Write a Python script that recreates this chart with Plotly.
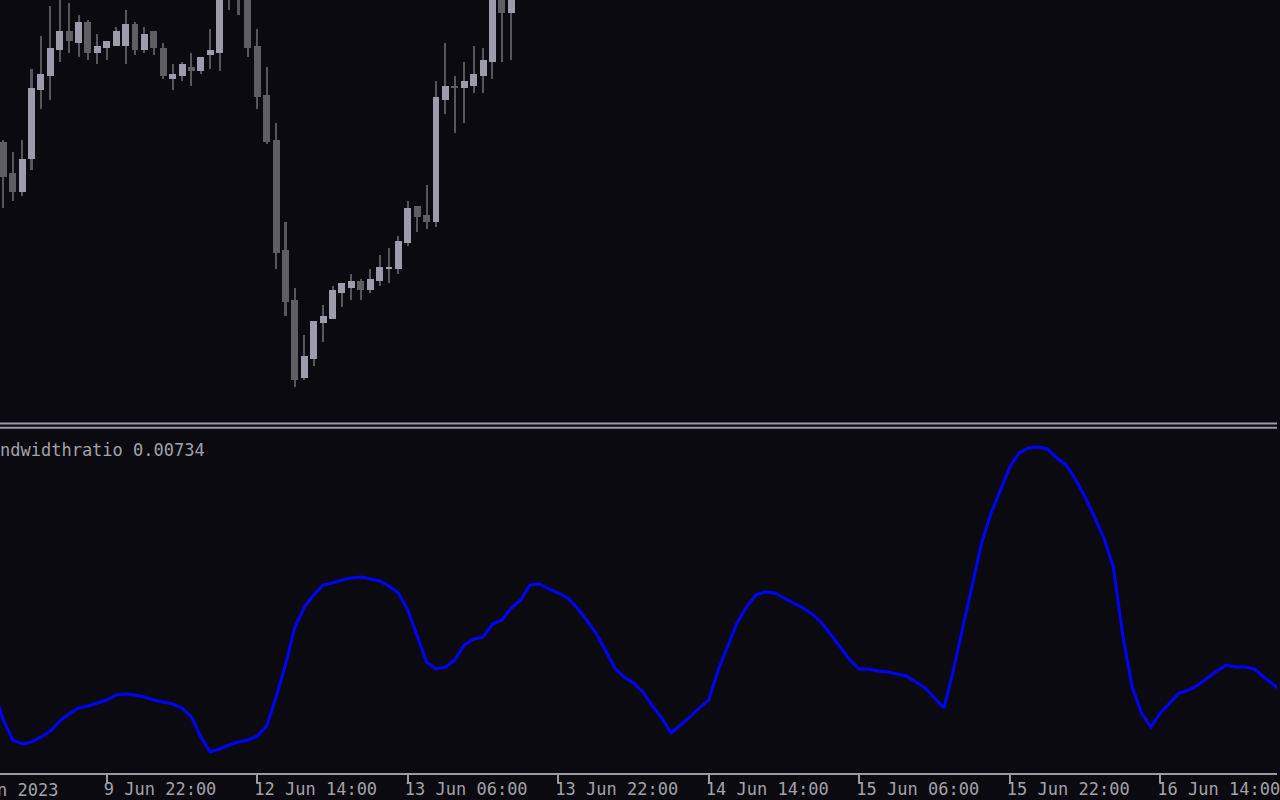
import plotly.graph_objects as go

# ---------------- data ----------------
# H1 bars, index 0 = 9 Jun 11:00 (only candles visible in the price window)
candle_idx = list(range(0, 55))
opens = [1967.90, 1966.35, 1965.40, 1967.05, 1970.50, 1971.20, 1972.50, 1973.45, 1972.85, 1973.90,
         1972.35, 1972.60, 1972.70, 1972.70, 1973.80, 1972.50, 1973.45, 1972.60, 1971.05, 1971.20,
         1971.65, 1971.45, 1972.25, 1972.35, 1976.50, 1976.00, 1975.50, 1972.70, 1970.25, 1968.00,
         1962.50, 1960.00, 1956.10, 1957.05, 1958.85, 1959.05, 1960.35, 1960.60, 1960.95, 1960.50,
         1960.95, 1961.55, 1961.55, 1962.85, 1964.70, 1964.25, 1963.90, 1970.00, 1970.70, 1970.60,
         1970.70, 1971.20, 1971.90, 1975.50, 1974.35]
highs = [1968.00, 1967.40, 1968.00, 1971.55, 1973.20, 1974.70, 1975.15, 1974.85, 1974.25, 1974.00,
         1973.30, 1972.95, 1973.65, 1974.50, 1973.90, 1973.65, 1973.45, 1972.85, 1971.80, 1971.90,
         1972.35, 1972.15, 1973.55, 1975.60, 1977.00, 1976.50, 1975.75, 1973.55, 1971.65, 1968.85,
         1963.90, 1960.60, 1958.25, 1958.95, 1959.75, 1960.70, 1960.85, 1961.30, 1961.05, 1961.55,
         1962.25, 1962.60, 1963.20, 1964.95, 1964.70, 1965.75, 1970.95, 1972.85, 1971.20, 1971.90,
         1972.70, 1972.60, 1975.75, 1976.00, 1976.25]
lows = [1964.60, 1964.95, 1965.20, 1966.50, 1969.55, 1970.00, 1971.90, 1972.35, 1972.15, 1972.00,
        1971.80, 1972.00, 1972.70, 1971.80, 1972.25, 1972.35, 1972.25, 1971.05, 1970.50, 1970.95,
        1970.70, 1971.30, 1971.55, 1971.45, 1974.50, 1974.25, 1972.15, 1969.55, 1967.80, 1961.55,
        1959.20, 1955.65, 1956.00, 1956.70, 1957.90, 1959.05, 1959.65, 1960.00, 1960.00, 1960.35,
        1960.70, 1960.85, 1961.30, 1962.70, 1963.40, 1963.55, 1963.65, 1969.30, 1968.35, 1968.85,
        1970.35, 1970.35, 1971.05, 1971.90, 1972.00]
closes = [1966.15, 1965.40, 1967.05, 1970.60, 1971.30, 1972.60, 1973.45, 1972.95, 1973.90, 1972.35,
          1972.70, 1972.95, 1973.45, 1973.80, 1972.50, 1973.30, 1972.60, 1971.20, 1971.30, 1971.80,
          1971.45, 1972.15, 1972.50, 1975.40, 1975.10, 1975.05, 1972.60, 1970.15, 1967.90, 1962.35,
          1959.90, 1956.00, 1957.20, 1958.95, 1959.20, 1960.50, 1960.85, 1960.95, 1960.50, 1961.05,
          1961.65, 1961.65, 1962.95, 1964.60, 1964.15, 1963.90, 1970.15, 1970.70, 1970.60, 1970.95,
          1971.30, 1972.00, 1975.40, 1974.35, 1975.75]

# Bandwidth ratio indicator, index -1 .. 136
ind_idx = list(range(-1, 137))
ind_vals = [0.00730,
            0.00670, 0.00630, 0.00622, 0.00626, 0.00636, 0.00648, 0.00668, 0.00682, 0.00694, 0.00698,
            0.00704, 0.00710, 0.00720, 0.00722, 0.00720, 0.00716, 0.00710, 0.00706, 0.00702, 0.00694,
            0.00676, 0.00636, 0.00606, 0.00612, 0.00620, 0.00626, 0.00630, 0.00638, 0.00658, 0.00716,
            0.00780, 0.00856, 0.00896, 0.00920, 0.00940, 0.00944, 0.00950, 0.00954, 0.00956, 0.00952,
            0.00948, 0.00938, 0.00924, 0.00890, 0.00840, 0.00786, 0.00772, 0.00776, 0.00790, 0.00820,
            0.00832, 0.00836, 0.00862, 0.00870, 0.00894, 0.00910, 0.00940, 0.00942, 0.00932, 0.00924,
            0.00914, 0.00894, 0.00870, 0.00844, 0.00810, 0.00774, 0.00756, 0.00744, 0.00726, 0.00698,
            0.00674, 0.00644, 0.00660, 0.00676, 0.00694, 0.00710, 0.00770, 0.00816, 0.00864, 0.00896,
            0.00920, 0.00926, 0.00924, 0.00914, 0.00904, 0.00894, 0.00882, 0.00864, 0.00840, 0.00816,
            0.00790, 0.00772, 0.00772, 0.00768, 0.00766, 0.00762, 0.00758, 0.00746, 0.00734, 0.00714,
            0.00694, 0.00770, 0.00856, 0.00944, 0.01024, 0.01084, 0.01130, 0.01176, 0.01204, 0.01214,
            0.01216, 0.01212, 0.01194, 0.01180, 0.01150, 0.01116, 0.01076, 0.01034, 0.00976, 0.00840,
            0.00736, 0.00684, 0.00656, 0.00684, 0.00704, 0.00724, 0.00730, 0.00740, 0.00754, 0.00768,
            0.00780, 0.00776, 0.00776, 0.00772, 0.00756, 0.00740, 0.00726]

tick_idx = [11, 27, 43, 59, 75, 91, 107, 123]
tick_labels = ["9 Jun 22:00", "12 Jun 14:00", "13 Jun 06:00", "13 Jun 22:00",
               "14 Jun 14:00", "15 Jun 06:00", "15 Jun 22:00", "16 Jun 14:00"]
first_label = "n 2023"
indicator_label = "ndwidthratio 0.00734"

# ---------------- style ----------------
BG = "#0a0a10"
BULL = "#9c9cac"
BEAR = "#5e5e64"
WICK = "#56565c"
AX = "#9a9aa2"
TXT = "#a2a2aa"
LINE = "#0000ff"
FONT = "DejaVu Sans Mono"
W, H = 1280, 800

bull_x, bull_base, bull_h = [], [], []
bear_x, bear_base, bear_h = [], [], []
for i, o, c in zip(candle_idx, opens, closes):
    lo_b = min(o, c)
    hgt = max(abs(c - o), 0.1)
    if c >= o:
        bull_x.append(i); bull_base.append(lo_b); bull_h.append(hgt)
    else:
        bear_x.append(i); bear_base.append(lo_b); bear_h.append(hgt)

fig = go.Figure()
fig.add_trace(go.Bar(x=candle_idx, y=[h - l for h, l in zip(highs, lows)], base=lows,
                     width=0.22, marker=dict(color=WICK, line=dict(width=0)),
                     xaxis="x", yaxis="y2", hoverinfo="skip"))
fig.add_trace(go.Bar(x=bear_x, y=bear_h, base=bear_base, width=0.74,
                     marker=dict(color=BEAR, line=dict(width=0)),
                     xaxis="x", yaxis="y2", hoverinfo="skip"))
fig.add_trace(go.Bar(x=bull_x, y=bull_h, base=bull_base, width=0.74,
                     marker=dict(color=BULL, line=dict(width=0)),
                     xaxis="x", yaxis="y2", hoverinfo="skip"))
fig.add_trace(go.Scatter(x=ind_idx, y=ind_vals, mode="lines",
                         line=dict(color=LINE, width=3), xaxis="x", yaxis="y",
                         hoverinfo="skip"))

def py(px):
    return 1 - px / H

fig.update_layout(
    width=W, height=H, margin=dict(l=0, r=0, t=0, b=0),
    paper_bgcolor=BG, plot_bgcolor=BG, showlegend=False,
    barmode="overlay", bargap=0,
    xaxis=dict(range=[-0.35, 135.4], domain=[0, 1], anchor="y",
               showgrid=False, zeroline=False, showline=True, linecolor=AX, linewidth=2,
               ticks="outside", ticklen=8, tickwidth=2, tickcolor=AX,
               tickmode="array", tickvals=tick_idx, ticktext=tick_labels,
               ticklabelposition="outside right", ticklabeloverflow="allow",
               ticklabelshift=-5,
               tickfont=dict(family=FONT, size=17, color=TXT)),
    yaxis=dict(domain=[py(773), py(429)], range=[0.00564, 0.01252],
               showgrid=False, zeroline=False, showticklabels=False, showline=False),
    yaxis2=dict(domain=[py(421), 1], range=[1953.95, 1975.0],
                showgrid=False, zeroline=False, showticklabels=False, showline=False),
    shapes=[
        dict(type="line", xref="paper", yref="paper", x0=0, x1=1, y0=py(423.5), y1=py(423.5),
             line=dict(color=AX, width=2)),
        dict(type="line", xref="paper", yref="paper", x0=0, x1=1, y0=py(427.8), y1=py(427.8),
             line=dict(color=AX, width=2)),
    ],
    annotations=[
        dict(text=indicator_label, xref="paper", yref="paper", x=0, y=py(450),
             xanchor="left", yanchor="middle", showarrow=False, xshift=-2,
             font=dict(family=FONT, size=17, color=TXT)),
        dict(text=first_label, xref="paper", yref="paper", x=0, y=py(790),
             xanchor="left", yanchor="middle", showarrow=False, xshift=-5,
             font=dict(family=FONT, size=17, color=TXT)),
    ],
)

fig.write_html("out.html", config={"displayModeBar": False},
               post_script="document.body.style.margin='0';document.body.style.overflow='hidden';")
